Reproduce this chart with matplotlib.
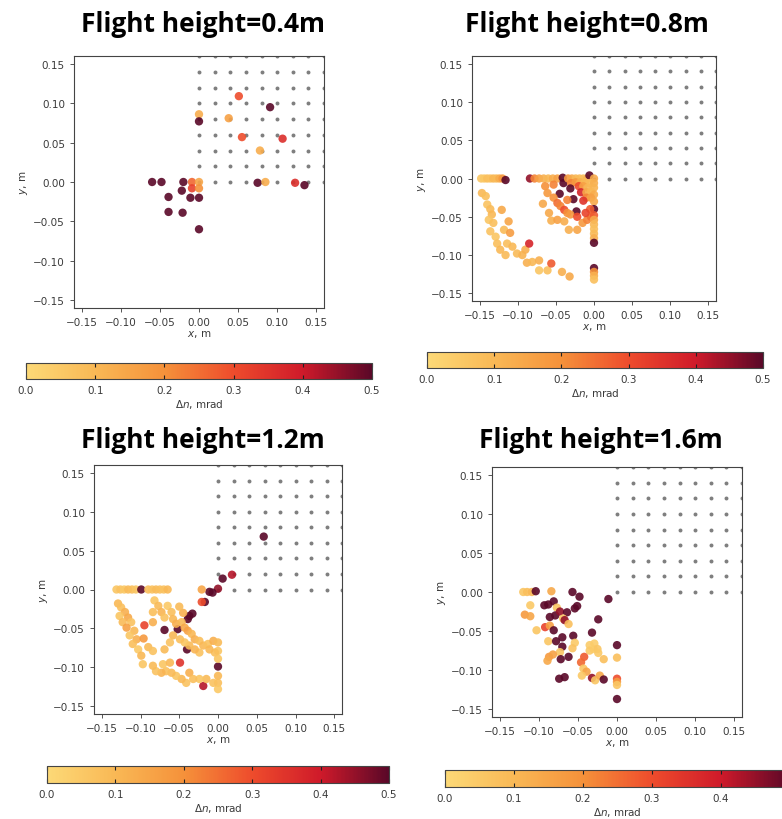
import numpy as np
import matplotlib
matplotlib.use('Agg')
import matplotlib.pyplot as plt
from matplotlib.colors import LinearSegmentedColormap, Normalize
from matplotlib.cm import ScalarMappable

# ── Data ────────────────────────────────────────────────────────────
titles = ['Flight height=0.4m', 'Flight height=0.8m',
          'Flight height=1.2m', 'Flight height=1.6m']

# reference grid (grey dots)
grid_vals = [0.00, 0.02, 0.04, 0.06, 0.08, 0.10, 0.12, 0.14, 0.16]

# 0.4 m
x1 = [-0.060, -0.048, -0.020, -0.009, 0.000, -0.009, 0.000, -0.022, -0.011, 0.000,
      -0.039, -0.039, -0.021, 0.000, 0.000, 0.000, 0.038, 0.051, 0.091, 0.055,
      0.107, 0.078, 0.075, 0.085, 0.123, 0.135]
y1 = [0.000, 0.000, 0.000, 0.000, 0.000, -0.008, -0.008, -0.011, -0.020, -0.020,
      -0.019, -0.038, -0.039, -0.060, 0.086, 0.077, 0.081, 0.109, 0.095, 0.057,
      0.055, 0.040, -0.001, 0.000, -0.001, -0.004]
v1 = [0.50, 0.50, 0.50, 0.26, 0.15, 0.32, 0.20, 0.50, 0.50, 0.50,
      0.50, 0.50, 0.50, 0.50, 0.13, 0.50, 0.16, 0.30, 0.50, 0.30,
      0.36, 0.13, 0.50, 0.13, 0.36, 0.50]

# 0.8 m
x2 = [-0.148, -0.144, -0.140, -0.136, -0.132, -0.128, -0.124, -0.120, -0.116,
      -0.084, -0.078, -0.072, -0.066, -0.060, -0.054, -0.048, -0.041, -0.040,
      -0.034, -0.029, -0.024, -0.019, -0.014, -0.009, -0.006, 0.000,
      -0.030, -0.024, -0.018, -0.012, -0.006, 0.000, -0.020, -0.014, -0.008, 0.000,
      -0.017, -0.010, -0.004, 0.000, -0.010, -0.004, 0.000, -0.014,
      -0.031, -0.045, -0.027, -0.023, 0.000, -0.005,
      -0.064, -0.061, -0.067, -0.053, -0.053, -0.048, -0.044, -0.039, -0.035, -0.031,
      -0.059, -0.056, -0.048, -0.039, -0.033, -0.022, -0.015, -0.009, -0.004, -0.022,
      -0.011, -0.035,
      0.000, 0.000, 0.000, 0.000, 0.000, 0.000, 0.000, 0.000, 0.000, 0.000, 0.000,
      -0.147, -0.142, -0.140, -0.136, -0.134, -0.138, -0.132, -0.136, -0.129, -0.127,
      -0.123, -0.116, -0.121, -0.112, -0.118, -0.110, -0.114, -0.107, -0.101, -0.094,
      -0.090, -0.085, -0.088, -0.081, -0.072, -0.072, -0.061, -0.056, -0.042, -0.032]
y2 = [0.000, 0.000, 0.000, 0.000, 0.000, 0.000, 0.000, 0.000, -0.002,
      0.000, 0.000, 0.000, 0.000, 0.000, 0.000, 0.000, 0.001, -0.006,
      0.000, 0.000, 0.000, 0.000, 0.000, 0.000, 0.004, 0.000,
      -0.006, -0.005, -0.005, -0.005, -0.006, -0.006, -0.010, -0.010, -0.012, -0.012,
      -0.018, -0.018, -0.017, -0.021, -0.025, -0.025, -0.030, -0.029,
      -0.013, -0.020, -0.027, -0.043, -0.040, -0.040,
      -0.010, -0.019, -0.033, -0.008, -0.025, -0.032, -0.036, -0.041, -0.045, -0.047,
      -0.045, -0.055, -0.054, -0.056, -0.067, -0.067, -0.058, -0.054, -0.050, -0.050,
      -0.045, -0.028,
      -0.048, -0.054, -0.060, -0.066, -0.072, -0.078, -0.084, -0.117, -0.122, -0.127, -0.132,
      -0.019, -0.023, -0.034, -0.040, -0.047, -0.054, -0.058, -0.069, -0.076, -0.085,
      -0.093, -0.100, -0.041, -0.056, -0.067, -0.071, -0.085, -0.089, -0.098, -0.100,
      -0.093, -0.085, -0.110, -0.109, -0.107, -0.120, -0.120, -0.111, -0.122, -0.128]
v2 = [0.06, 0.05, 0.08, 0.07, 0.10, 0.09, 0.13, 0.18, 0.50,
      0.45, 0.22, 0.16, 0.12, 0.10, 0.13, 0.16, 0.50, 0.50,
      0.18, 0.14, 0.10, 0.09, 0.08, 0.11, 0.50, 0.14,
      0.22, 0.18, 0.12, 0.10, 0.09, 0.12, 0.30, 0.16, 0.10, 0.11,
      0.38, 0.14, 0.10, 0.13, 0.22, 0.16, 0.14, 0.35,
      0.50, 0.50, 0.50, 0.50, 0.50, 0.28,
      0.20, 0.18, 0.14, 0.22, 0.20, 0.25, 0.22, 0.30, 0.20, 0.18,
      0.14, 0.12, 0.16, 0.13, 0.12, 0.15, 0.18, 0.22, 0.25, 0.30,
      0.32, 0.22,
      0.28, 0.14, 0.10, 0.08, 0.09, 0.12, 0.50, 0.50, 0.20, 0.12, 0.08,
      0.10, 0.08, 0.07, 0.09, 0.10, 0.06, 0.08, 0.07, 0.06, 0.08,
      0.10, 0.09, 0.14, 0.15, 0.09, 0.17, 0.08, 0.10, 0.09, 0.11,
      0.12, 0.38, 0.12, 0.10, 0.12, 0.06, 0.08, 0.28, 0.12, 0.14]

# 1.2 m
x3 = [-0.131, -0.126, -0.121, -0.116, -0.111, -0.106, -0.099, -0.090, -0.085, -0.080,
      -0.075, -0.070, -0.065,
      0.059, 0.018, 0.006, 0.000, -0.007, -0.011, -0.017, -0.021, -0.021,
      -0.033, -0.037, -0.039, -0.069, -0.052, -0.040, -0.049, -0.095, 0.000, -0.019,
      -0.129, -0.125, -0.120, -0.127, -0.116, -0.123, -0.112, -0.118, -0.108, -0.114,
      -0.105, -0.096, -0.110, -0.103, -0.090, -0.084, -0.099, -0.097, -0.084, -0.084,
      -0.082, -0.077, -0.073, -0.069, -0.065, -0.060, -0.058, -0.054, -0.047, -0.043,
      -0.039, -0.034, -0.030, -0.024, -0.019, -0.013, -0.006, 0.000, 0.000, -0.004,
      -0.011, -0.024, -0.030, -0.037, -0.043, -0.049, -0.058, -0.062, -0.069, 0.000,
      0.000, 0.000, 0.000, -0.006, -0.015, -0.024, -0.037, -0.032, -0.041, -0.047,
      -0.054, -0.060, -0.067, -0.073, -0.080, -0.084, -0.071, -0.062, -0.045, -0.050]
y3 = [0.000, 0.000, 0.000, 0.000, 0.000, 0.000, 0.000, 0.000, 0.000, 0.000,
      0.000, 0.000, 0.000,
      0.068, 0.019, 0.014, 0.001, -0.004, -0.003, -0.016, -0.016, 0.000,
      -0.031, -0.034, -0.038, -0.052, -0.051, -0.077, -0.094, -0.046, -0.099, -0.124,
      -0.018, -0.023, -0.029, -0.034, -0.036, -0.042, -0.042, -0.049, -0.053, -0.059,
      -0.064, -0.063, -0.070, -0.077, -0.074, -0.079, -0.085, -0.096, -0.042, -0.029,
      -0.014, -0.021, -0.029, -0.036, -0.021, -0.029, -0.038, -0.044, -0.042, -0.049,
      -0.053, -0.057, -0.064, -0.066, -0.072, -0.070, -0.066, -0.068, -0.079, -0.081,
      -0.077, -0.081, -0.077, -0.072, -0.068, -0.064, -0.059, -0.068, -0.077, -0.089,
      -0.111, -0.120, -0.128, -0.120, -0.115, -0.115, -0.107, -0.115, -0.120, -0.115,
      -0.111, -0.107, -0.105, -0.107, -0.105, -0.098, -0.096, -0.094, -0.030, -0.022]
v3 = [0.06, 0.07, 0.05, 0.09, 0.08, 0.06, 0.50, 0.08, 0.07, 0.09,
      0.08, 0.07, 0.10,
      0.50, 0.42, 0.50, 0.45, 0.50, 0.50, 0.50, 0.30, 0.15,
      0.50, 0.50, 0.50, 0.50, 0.50, 0.50, 0.35, 0.32, 0.50, 0.42,
      0.10, 0.08, 0.12, 0.06, 0.14, 0.09, 0.07, 0.16, 0.10, 0.06,
      0.12, 0.18, 0.08, 0.05, 0.09, 0.07, 0.10, 0.06, 0.12, 0.08,
      0.06, 0.09, 0.11, 0.07, 0.05, 0.08, 0.10, 0.12, 0.09, 0.14,
      0.16, 0.10, 0.12, 0.08, 0.10, 0.07, 0.12, 0.09, 0.06, 0.08,
      0.10, 0.07, 0.11, 0.09, 0.06, 0.08, 0.10, 0.07, 0.09, 0.06,
      0.10, 0.08, 0.05, 0.07, 0.09, 0.06, 0.12, 0.08, 0.07, 0.10,
      0.06, 0.09, 0.08, 0.11, 0.07, 0.09, 0.06, 0.10, 0.12, 0.09]

# 1.6 m
x4 = [-0.120, -0.115, -0.109, -0.104, -0.084, -0.057, -0.048, -0.011,
      -0.111, -0.118, -0.111, -0.093, -0.088, -0.081, -0.077, -0.086, -0.079, -0.073,
      -0.064, -0.069, -0.067, -0.062, -0.054, -0.051, -0.024, -0.032, -0.103, -0.092,
      -0.086, -0.081, -0.088, -0.078, -0.070, -0.056, -0.070, -0.054, -0.057, -0.073,
      -0.087, -0.089, -0.082, -0.072, -0.062, -0.035, -0.030, -0.035, -0.029, -0.025,
      -0.024, -0.017, -0.042, -0.046, -0.043, -0.039, -0.045, -0.032, -0.028, -0.022,
      -0.017, -0.074, -0.067, 0.000, 0.000, 0.000, 0.000, 0.000, 0.000]
y4 = [0.000, 0.000, 0.000, 0.001, 0.001, 0.000, -0.006, -0.009,
      -0.017, -0.029, -0.031, -0.017, -0.016, -0.012, -0.020, -0.032, -0.030, -0.025,
      -0.026, -0.034, -0.036, -0.041, -0.021, -0.018, -0.035, -0.052, -0.049, -0.045,
      -0.043, -0.049, -0.063, -0.063, -0.058, -0.056, -0.070, -0.065, -0.072, -0.077,
      -0.083, -0.088, -0.080, -0.086, -0.083, -0.068, -0.073, -0.075, -0.066, -0.073,
      -0.078, -0.086, -0.083, -0.090, -0.098, -0.102, -0.107, -0.110, -0.113, -0.107,
      -0.112, -0.111, -0.109, -0.068, -0.084, -0.111, -0.115, -0.119, -0.137]
v4 = [0.06, 0.08, 0.10, 0.50, 0.14, 0.50, 0.50, 0.50,
      0.05, 0.18, 0.15, 0.50, 0.50, 0.50, 0.06, 0.50, 0.50, 0.45,
      0.50, 0.06, 0.45, 0.08, 0.50, 0.50, 0.50, 0.50, 0.06, 0.32,
      0.16, 0.50, 0.06, 0.50, 0.50, 0.50, 0.50, 0.05, 0.07, 0.06,
      0.18, 0.14, 0.16, 0.50, 0.50, 0.04, 0.02, 0.05, 0.04, 0.06,
      0.05, 0.08, 0.28, 0.26, 0.06, 0.15, 0.05, 0.45, 0.06, 0.14,
      0.50, 0.50, 0.50, 0.50, 0.08, 0.30, 0.18, 0.06, 0.50]

xs = [x1, x2, x3, x4]
ys = [y1, y2, y3, y4]
vs = [v1, v2, v3, v4]

cb_ticks = [0.0, 0.1, 0.2, 0.3, 0.4, 0.5]

# ── Layout (pixel boxes: left, top, right, bottom) ──────────────────
FIG_W, FIG_H = 782, 820
AX_BOX = [(74, 57, 324, 309), (472, 57, 716, 302),
          (94, 466, 342, 715), (492, 468, 742, 718)]
CB_BOX = [(26, 364, 372, 380), (427, 353, 763, 369),
          (47, 767, 389, 784), (445, 771, 790, 788)]
TITLE_POS = [(203, 32), (587, 32), (203, 448), (601, 448)]

def box(b):
    l, t, r, btm = b
    return [l / FIG_W, 1 - btm / FIG_H, (r - l) / FIG_W, (btm - t) / FIG_H]

TXT = '#3a3a3a'
plt.rcParams.update({
    'font.size': 7.5,
    'text.color': TXT,
    'axes.labelcolor': TXT,
    'xtick.color': TXT,
    'ytick.color': TXT,
    'axes.edgecolor': '#444444',
    'axes.linewidth': 0.8,
    'xtick.major.size': 3,
    'ytick.major.size': 3,
    'xtick.major.width': 0.6,
    'ytick.major.width': 0.6,
})

cmap = LinearSegmentedColormap.from_list(
    'dn', ['#fcd977', '#f9b855', '#f5913a', '#ee4c2c', '#cf1a2a', '#5a0828'])
norm = Normalize(vmin=0.0, vmax=0.5)

gx, gy = np.meshgrid(grid_vals, grid_vals)

fig = plt.figure(figsize=(FIG_W / 100, FIG_H / 100), dpi=100, facecolor='white')

for i in range(4):
    ax = fig.add_axes(box(AX_BOX[i]))
    ax.scatter(gx.ravel(), gy.ravel(), s=8, color='#7f7f7f', linewidths=0, zorder=2)
    ax.scatter(xs[i], ys[i], c=vs[i], cmap=cmap, norm=norm, s=36,
               linewidths=0, alpha=0.9, zorder=3)
    ax.set_xlim(-0.16, 0.16)
    ax.set_ylim(-0.16, 0.16)
    ticks = [-0.15, -0.10, -0.05, 0.00, 0.05, 0.10, 0.15]
    ax.set_xticks(ticks)
    ax.set_yticks(ticks)
    ax.set_xticklabels([f'{t:.2f}'.replace('-', '\u2212') for t in ticks])
    ax.set_yticklabels([f'{t:.2f}'.replace('-', '\u2212') for t in ticks])
    ax.set_xlabel('$x$, m', labelpad=1)
    ax.set_ylabel('$y$, m', labelpad=2)

    cax = fig.add_axes(box(CB_BOX[i]))
    cb = fig.colorbar(ScalarMappable(norm=norm, cmap=cmap), cax=cax,
                      orientation='horizontal')
    # last bar runs off the right edge; its 0.5 label is not in view
    cb.set_ticks(cb_ticks if i < 3 else cb_ticks[:-1])
    cb.ax.tick_params(direction='in', top=True, length=3, width=0.8,
                      color='#222222', pad=4)
    cb.outline.set_linewidth(0.8)
    cb.set_label(r'$\Delta n$, mrad', labelpad=2)

    tx, ty = TITLE_POS[i]
    fig.text(tx / FIG_W, 1 - ty / FIG_H, titles[i], ha='center', va='baseline',
             fontsize=19, fontweight='bold', family='Open Sans', color='black')

fig.savefig('out.png', dpi=100, facecolor='white')
